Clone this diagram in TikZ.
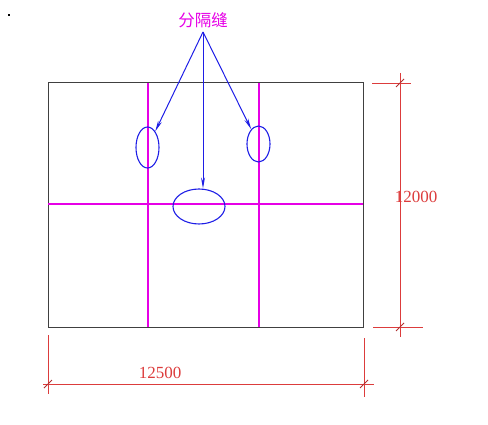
\documentclass[tikz,border=0pt]{standalone}
\usepackage{fontspec}
\setmainfont{Liberation Serif}
\newfontfamily\cjk{Noto Sans CJK SC}
\usetikzlibrary{shapes.geometric,arrows.meta}
\definecolor{dimred}{RGB}{220,60,60}
\definecolor{mag}{RGB}{230,0,230}
\definecolor{jointblue}{RGB}{30,30,230}
\tikzset{
  outline/.style={draw=black!75, line width=1pt},
  gridline/.style={draw=mag, line width=1.6pt},
  joint/.style={ellipse, draw=jointblue, line width=1.1pt, inner sep=0pt},
  pointer/.style={draw=jointblue, line width=1pt, -{Stealth[length=11pt,width=4pt]}},
  dimline/.style={draw=dimred, line width=0.8pt},
  tick/.style={draw=dimred!80!black, line width=0.8pt},
  dimtext/.style={text=dimred, font=\fontsize{17}{17}\selectfont, inner sep=0pt},
}
\begin{document}
\begin{tikzpicture}[x=1pt,y=-1pt]
\useasboundingbox (0,0) rectangle (488,425);
% stray dot
\fill[black] (8,14) rectangle (10,16);
% outline
\draw[outline] (48,83) rectangle (363,327);
% joints lines
\draw[gridline] (148,83) -- (148,327);
\draw[gridline] (259,83) -- (259,327);
\draw[gridline] (48,204) -- (363,204);
% ellipses
\node[joint, minimum width=23pt, minimum height=41pt] (e1) at (147.5,147.5) {};
\node[joint, minimum width=23pt, minimum height=36pt] (e2) at (258.5,144) {};
\node[joint, minimum width=52pt, minimum height=35pt] (e3) at (199,206.5) {};
% label
\node[text=mag, font=\cjk\fontsize{16.5}{16.5}\selectfont, inner sep=0pt] (lbl) at (203,20) {分隔缝};
\coordinate (src) at (203,32);
\draw[pointer] (src) -- (e1);
\draw[pointer] (src) -- (e3.north -| src);
\draw[pointer] (src) -- (e2);
% vertical dimension
\coordinate (vt) at (400,73);
\coordinate (vb) at (400,337);
\draw[dimline] (vt) -- (vb);
\draw[dimline] (372,83) -- (411,83);
\draw[dimline] (373,327) -- (423,327);
\draw[tick] (396,87) -- (404,79);
\draw[tick] (396,331) -- (404,323);
\node[dimtext] (vtext) at (416,197) {12000};
% horizontal dimension
\draw[dimline] (43,384) -- (374,384);
\draw[dimline] (48,335) -- (48,394);
\draw[dimline] (364,338) -- (364,397);
\draw[tick] (44,388) -- (52,380);
\draw[tick] (360,388) -- (368,380);
\node[dimtext] (htext) at (160,372.5) {12500};
\end{tikzpicture}
\end{document}
